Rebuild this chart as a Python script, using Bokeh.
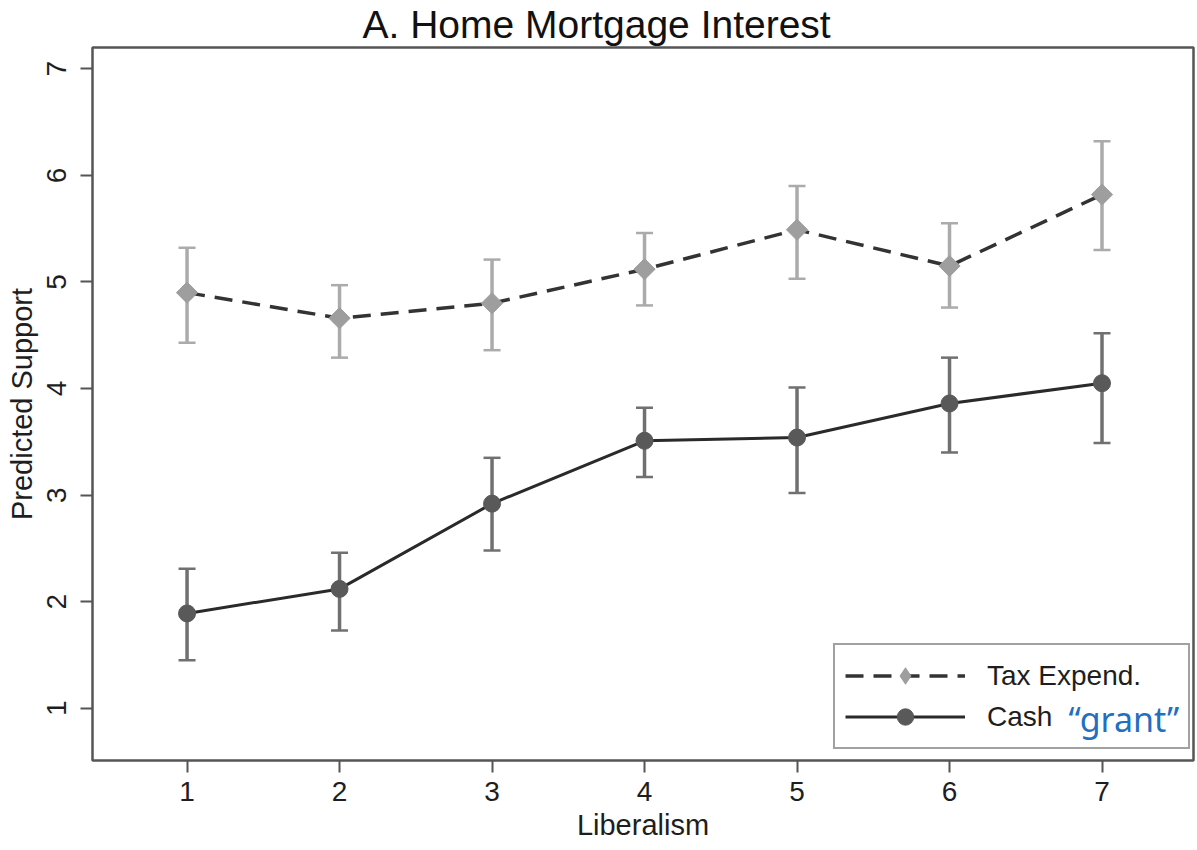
import math
from bokeh.plotting import figure
from bokeh.models import (ColumnDataSource, Whisker, TeeHead, Range1d, FixedTicker,
                          Legend, LegendItem, Label)
from bokeh.embed import file_html
from bokeh.resources import INLINE

# Predicted support by liberalism, with confidence intervals
liberalism = [1, 2, 3, 4, 5, 6, 7]
tax_mean = [4.90, 4.66, 4.80, 5.12, 5.49, 5.15, 5.82]
tax_lower = [4.43, 4.29, 4.36, 4.78, 5.03, 4.76, 5.30]
tax_upper = [5.32, 4.97, 5.21, 5.46, 5.90, 5.55, 6.32]
cash_mean = [1.89, 2.12, 2.92, 3.51, 3.54, 3.86, 4.05]
cash_lower = [1.45, 1.73, 2.48, 3.17, 3.02, 3.40, 3.49]
cash_upper = [2.31, 2.46, 3.35, 3.82, 4.01, 4.29, 4.52]
x_ticks = [1, 2, 3, 4, 5, 6, 7]
y_ticks = [1, 2, 3, 4, 5, 6, 7]

FONT = "Liberation Sans"
TEXT = "#1e1e1e"
FRAME = "#555555"
TAX_MARK = "#9e9e9e"
TAX_ERR = "#ababab"
CASH_MARK = "#595959"
CASH_ERR = "#707070"

tax_src = ColumnDataSource(dict(x=liberalism, y=tax_mean, lower=tax_lower, upper=tax_upper))
cash_src = ColumnDataSource(dict(x=liberalism, y=cash_mean, lower=cash_lower, upper=cash_upper))

p = figure(width=1197, height=850, output_backend="svg", toolbar_location=None,
           x_range=Range1d(0.38, 7.6), y_range=Range1d(0.51, 7.2),
           min_border_left=92, min_border_right=4, min_border_top=47, min_border_bottom=90,
           title="A. Home Mortgage Interest")

p.title.text_font = FONT
p.title.text_font_size = "39px"
p.title.text_font_style = "normal"
p.title.text_color = "#111111"
p.title.align = "left"
p.title.offset = 270
p.title.standoff = 0
p.title.vertical_align = "top"

p.background_fill_color = "white"
p.border_fill_color = "white"
p.outline_line_color = FRAME
p.outline_line_width = 2.5
p.grid.visible = False

for ax in (p.xaxis[0], p.yaxis[0]):
    ax.axis_line_color = None
    ax.major_tick_line_color = FRAME
    ax.major_tick_line_width = 2
    ax.major_tick_out = 12
    ax.major_tick_in = 0
    ax.minor_tick_line_color = None
    ax.major_label_text_font = FONT
    ax.major_label_text_font_size = "28px"
    ax.major_label_text_color = TEXT
    ax.axis_label_text_font = FONT
    ax.axis_label_text_font_size = "29px"
    ax.axis_label_text_font_style = "normal"
    ax.axis_label_text_color = TEXT

p.xaxis.ticker = FixedTicker(ticks=x_ticks)
p.yaxis.ticker = FixedTicker(ticks=y_ticks)
p.xaxis.axis_label = "Liberalism"
p.yaxis.axis_label = "Predicted Support"
p.yaxis.major_label_orientation = "vertical"
p.xaxis.major_label_standoff = 9
p.yaxis.major_label_standoff = 14
p.xaxis.axis_label_standoff = 5
p.yaxis.axis_label_standoff = 7

# Confidence intervals
def heads(color):
    return dict(upper_head=TeeHead(size=17, line_color=color, line_width=2.5),
                lower_head=TeeHead(size=17, line_color=color, line_width=2.5))

p.add_layout(Whisker(base="x", lower="lower", upper="upper", source=tax_src,
                     line_color=TAX_ERR, line_width=3.5, **heads(TAX_ERR)))
p.add_layout(Whisker(base="x", lower="lower", upper="upper", source=cash_src,
                     line_color=CASH_ERR, line_width=3.5, **heads(CASH_ERR)))

tax_line = p.line("x", "y", source=tax_src, line_color="#333333", line_width=3.5,
                  line_dash="18 10")
p.scatter("x", "y", source=tax_src, marker="square", angle=math.pi / 4,
          size=15, fill_color=TAX_MARK, line_color=TAX_MARK)
cash_line = p.line("x", "y", source=cash_src, line_color="#2a2a2a", line_width=3)
cash_pts = p.scatter("x", "y", source=cash_src, marker="circle", size=17,
                     fill_color=CASH_MARK, line_color=CASH_MARK)
# key glyph for the legend entry of the tax series (no point drawn in the plot)
tax_key = p.scatter(x=[float("nan")], y=[float("nan")], marker="diamond", size=24,
                    fill_color=TAX_MARK, line_color=TAX_MARK)

legend = Legend(items=[LegendItem(label="Tax Expend.", renderers=[tax_line, tax_key]),
                       LegendItem(label="Cash", renderers=[cash_line, cash_pts])],
                location=(741, 11), orientation="vertical",
                glyph_width=120, glyph_height=41, label_width=191, label_height=41,
                label_standoff=22, padding=10, spacing=0, margin=0,
                label_text_font=FONT, label_text_font_size="28px", label_text_color=TEXT,
                border_line_color="#444444", border_line_width=2.5,
                background_fill_alpha=0.0)
p.add_layout(legend, "center")

p.add_layout(Label(x=6.78, y=0.9, text="\u201cgrant\u201d", text_font="Noto Sans",
                   text_font_size="34px", text_color="#1f6fc2", text_baseline="middle"))

open("out.html", "w").write(file_html(p, INLINE))
